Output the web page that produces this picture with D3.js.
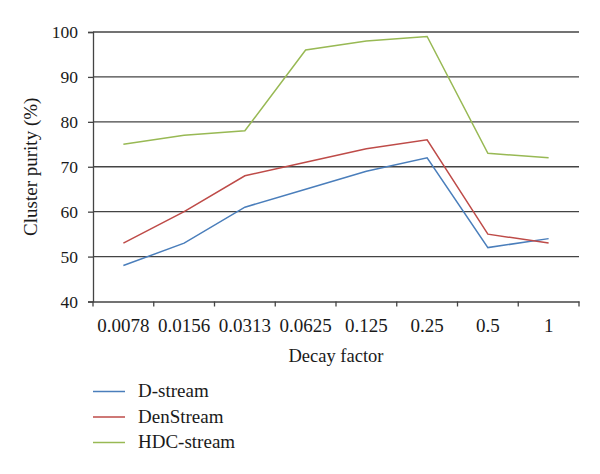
<!DOCTYPE html>
<html><head><meta charset="utf-8">
<script src="https://cdn.jsdelivr.net/npm/d3@7"></script>
<style>body{margin:0;background:#fff}svg{display:block}</style>
</head><body>
<svg id="c" width="600" height="474"></svg>
<script>
const categories = ["0.0078","0.0156","0.0313","0.0625","0.125","0.25","0.5","1"];
const dstream = [48,53,61,65,69,72,52,54];
const denstream = [53,60,68,71,74,76,55,53];
const hdcstream = [75,77,78,96,98,99,73,72];
const yTicks = [40,50,60,70,80,90,100];
const seriesNames = ["D-stream","DenStream","HDC-stream"];
const seriesColors = ["#4a7ebb","#be4b48","#98b954"];
const seriesData = [dstream, denstream, hdcstream];

const svg = d3.select("#c");
const font = "'Liberation Serif', 'DejaVu Serif', serif";
const txt = "#1a1a1a";
const L = 93, R = 579, T = 32, B = 301.5;
const x = d3.scaleBand().domain(categories).range([L, R]);
const y = d3.scaleLinear().domain([40,100]).range([B, T]);
const grid = "#444";

// gridlines
svg.append("g").selectAll("line").data(yTicks.filter(d=>d>40)).join("line")
  .attr("x1", L).attr("x2", R).attr("y1", d=>y(d)).attr("y2", d=>y(d))
  .attr("stroke", grid).attr("stroke-width", 1.3);

// y axis
const ya = svg.append("g").attr("transform", `translate(${L},0)`)
  .call(d3.axisLeft(y).tickValues(yTicks).tickSize(5).tickPadding(10));
ya.select(".domain").attr("stroke", grid).attr("stroke-width", 1.3);
ya.selectAll(".tick line").attr("stroke", grid).attr("stroke-width", 1.3);
ya.selectAll("text").attr("font-family", font).attr("font-size", 17.5).attr("fill", txt)
  .attr("x", -15).attr("dy", "0.32em");

// x axis
const xa = svg.append("g").attr("transform", `translate(0,${B})`)
  .call(d3.axisBottom(x).tickSize(0));
xa.select(".domain").attr("stroke", grid).attr("stroke-width", 1.3);
xa.selectAll("text").attr("font-family", font).attr("font-size", 19).attr("fill", txt)
  .attr("y", 30.5).attr("dy", 0);
// tick marks at band edges
const edges = categories.map(c => x(c)).concat([R]);
svg.append("g").selectAll("line").data(edges).join("line")
  .attr("x1", d=>d).attr("x2", d=>d).attr("y1", B).attr("y2", B+5)
  .attr("stroke", grid).attr("stroke-width", 1.3);

// lines
const line = d3.line().x((d,i)=>x(categories[i]) + x.bandwidth()/2).y(d=>y(d));
seriesData.forEach((s, k) => {
  svg.append("path").datum(s).attr("d", line).attr("fill","none")
    .attr("stroke", seriesColors[k]).attr("stroke-width", 1.5);
});

// axis titles
svg.append("text").attr("transform", `translate(37,${(T+B)/2}) rotate(-90)`)
  .attr("text-anchor","middle").attr("font-family", font).attr("font-size", 19).attr("fill",txt)
  .text("Cluster purity (%)");
svg.append("text").attr("x", 336).attr("y", 362)
  .attr("text-anchor","middle").attr("font-family", font).attr("font-size", 18.5).attr("fill",txt)
  .text("Decay factor");

// legend
const lg = svg.append("g").selectAll("g").data(seriesNames).join("g")
  .attr("transform", (d,i)=>`translate(93,${391.5 + i*25.5})`);
lg.append("line").attr("x1",0).attr("x2",32).attr("y1",0).attr("y2",0)
  .attr("stroke", (d,i)=>seriesColors[i]).attr("stroke-width",1.5);
lg.append("text").attr("x",45).attr("y",5.5).attr("font-family", font).attr("font-size",19).attr("fill",txt)
  .text(d=>d);
</script>
</body></html>
